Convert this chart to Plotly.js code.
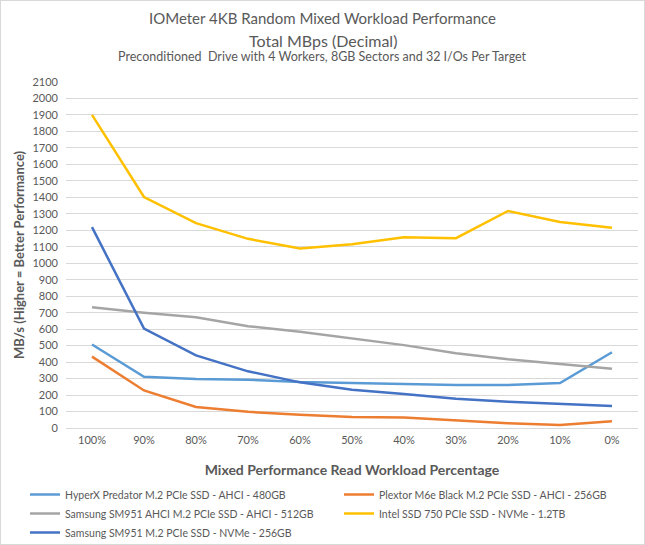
<!DOCTYPE html>
<html>
<head>
<meta charset="utf-8">
<script src="https://cdn.plot.ly/plotly-3.0.1.min.js"></script>
<style>
html,body{margin:0;padding:0;background:#fff;}
#chart{width:643px;height:543px;border:1px solid #d9d9d9;}
</style>
</head>
<body>
<div id="chart"></div>
<script>
const categories = ["100%","90%","80%","70%","60%","50%","40%","30%","20%","10%","0%"];
const hyperx = [507,311,297,293,279,273,267,261,261,273,460];
const plextor = [433,228,128,98,81,67,63,45,29,18,41];
const samsungAhci = [733,700,672,618,584,545,503,454,417,389,360];
const intel = [1900,1402,1243,1148,1089,1115,1158,1152,1317,1250,1215];
const samsungNvme = [1219,603,441,344,277,232,206,177,159,145,134];

const names = [
  "HyperX Predator M.2 PCIe SSD - AHCI - 480GB",
  "Plextor M6e Black M.2 PCIe SSD - AHCI - 256GB",
  "Samsung SM951 AHCI M.2 PCIe SSD - AHCI - 512GB",
  "Intel SSD 750 PCIe SSD - NVMe - 1.2TB",
  "Samsung SM951 M.2 PCIe SSD - NVMe - 256GB"
];
const titleLines = [
  "IOMeter 4KB Random Mixed Workload Performance",
  "Total MBps (Decimal)",
  "Preconditioned  Drive with 4 Workers, 8GB Sectors and 32 I/Os Per Target"
];
const series = [hyperx, plextor, samsungAhci, intel, samsungNvme];
const colors = ["#5B9BD5","#ED7D31","#A5A5A5","#FFC000","#4472C4"];
const legendOf = ["legend","legend2","legend","legend2","legend"];

const traces = series.map((s,i)=>({
  type:"scatter", mode:"lines", x:categories, y:s, name:names[i],
  legend:legendOf[i],
  line:{color:colors[i], width:2.5}
}));

const font = "Lato, 'Open Sans', sans-serif";
const W = 643, H = 543, mL = 65, mR = 6, mT = 81, mB = 116;
const pw = W - mL - mR, ph = H - mT - mB;
const py = (pix) => (H - mB - pix) / ph;   // pixel y -> paper y
const px = (pix) => (pix - mL) / pw;       // pixel x -> paper x

const annotations = [
  {text:titleLines[0], y:py(17), size:15},
  {text:titleLines[1], y:py(39), size:16},
  {text:titleLines[2], y:py(56), size:12.5}
].map(a=>({
  text:a.text, xref:"paper", yref:"paper", x:px(321.5), y:a.y,
  xanchor:"center", yanchor:"middle", showarrow:false,
  font:{family:font, size:a.size, color:"#595959"}
}));

const legendCommon = {
  orientation:"v", yanchor:"top", xanchor:"left",
  font:{family:font, size:10.5, color:"#595959"}, traceorder:"normal",
  tracegroupgap:0, bgcolor:"rgba(0,0,0,0)", itemwidth:30
};

const layout = {
  width:W, height:H,
  margin:{l:mL, r:mR, t:mT, b:mB, autoexpand:false},
  paper_bgcolor:"#fff", plot_bgcolor:"#fff",
  font:{family:font, color:"#595959", size:11},
  annotations:annotations,
  xaxis:{
    type:"category", range:[-0.5,10.5], showgrid:false, zeroline:false, showline:false, ticks:"",
    ticklabelstandoff:4,
    tickfont:{size:11, color:"#595959"},
    title:{text:"<b>Mixed Performance Read Workload Percentage</b>", font:{size:14, color:"#595959"}, standoff:20}
  },
  yaxis:{
    range:[0,2100], dtick:100, tick0:0, showgrid:true, gridcolor:"#d9d9d9", gridwidth:1,
    zeroline:true, zerolinecolor:"#d9d9d9", zerolinewidth:1, showline:false, ticks:"",
    ticklabelstandoff:7,
    tickfont:{size:11, color:"#595959"},
    title:{text:"<b>MB/s (Higher = Better Performance)</b>", font:{size:13, color:"#595959"}, standoff:4}
  },
  legend:Object.assign({}, legendCommon, {x:px(24), y:py(479)}),
  legend2:Object.assign({}, legendCommon, {x:px(338), y:py(479)}),
  showlegend:true
};
Plotly.newPlot("chart", traces, layout, {displayModeBar:false, staticPlot:true});
</script>
</body>
</html>
